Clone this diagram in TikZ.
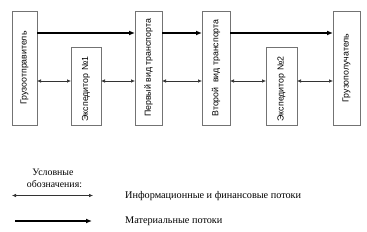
\documentclass[tikz,border=0pt]{standalone}
\usepackage{fontspec}
\usepackage{graphicx}
\setmainfont{Liberation Serif}
\newfontfamily\boxfont{Liberation Sans}
\usetikzlibrary{arrows.meta}
\newlength\legwidthA
\AtBeginDocument{\settowidth{\legwidthA}{\fontsize{9}{10}\selectfont Информационные и финансовые потоки}\pgfmathsetmacro\legscale{176/\legwidthA}\global\let\legscale\legscale}
\begin{document}
\begin{tikzpicture}[x=1pt,y=-1pt,
  box/.style={draw=black!55,line width=0.6pt,fill=white,inner sep=0pt},
  boxtext/.style={rotate=90,font=\boxfont\fontsize{8.8}{10}\selectfont},
  matflow/.style={line width=1.6pt,-{Latex[length=6pt,width=5pt]}},
  infoflow/.style={line width=0.6pt,draw=black!80,{Latex[length=4pt,width=3.5pt]}-{Latex[length=4pt,width=3.5pt]}},
  legtext/.style={anchor=west,inner sep=0pt}]
\useasboundingbox (0,0) rectangle (367,232);
% boxes
\draw[box] (12,11) rectangle (37,125);
\node[boxtext] (b1) at (24.5,68) {Грузоотправитель};
\draw[box] (71,47) rectangle (101,125);
\node[boxtext] (b2) at (86,89) {Экспедитор №1};
\draw[box] (135,11) rectangle (162,125);
\node[boxtext] (b3) at (148.5,68) {Первый вид транспорта};
\draw[box] (202,11) rectangle (230,125);
\node[boxtext] (b4) at (216,68) {Второй\hspace{2pt} вид транспорта};
\draw[box] (266,47) rectangle (297,125);
\node[boxtext] (b5) at (281.5,89) {Экспедитор №2};
\draw[box] (333,11) rectangle (360,125);
\node[boxtext] (b6) at (346.5,68) {Грузополучатель};
% anchor coordinates
\coordinate (b1r) at (37,0); \coordinate (b2l) at (71,0); \coordinate (b2r) at (101,0);
\coordinate (b3l) at (135,0); \coordinate (b3r) at (162,0); \coordinate (b4l) at (202,0);
\coordinate (b4r) at (230,0); \coordinate (b5l) at (266,0); \coordinate (b5r) at (297,0);
\coordinate (b6l) at (333,0);
% material flows
\draw[matflow] (b1r |- 0,33) -- (b3l |- 0,33);
\draw[matflow] (b3r |- 0,33) -- (b4l |- 0,33);
\draw[matflow] (b4r |- 0,33) -- (b6l |- 0,33);
% info flows
\draw[infoflow] (b1r |- 0,81) -- (b2l |- 0,81);
\draw[infoflow] (b2r |- 0,81) -- (b3l |- 0,81);
\draw[infoflow] (b3r |- 0,81) -- (b4l |- 0,81);
\draw[infoflow] (b4r |- 0,81) -- (b5l |- 0,81);
\draw[infoflow] (b5r |- 0,81) -- (b6l |- 0,81);
% legend
\node[inner sep=0pt] (leg1) at (53,172) {\resizebox{41pt}{!}{\fontsize{8.5}{9}\selectfont Условные}};
\node[inner sep=0pt] (leg2) at (54.5,184) {\resizebox{55pt}{!}{\fontsize{8.5}{9}\selectfont обозначения:}};
\coordinate (l1a) at (12,195.5); \coordinate (l1b) at (93,195.5);
\draw[infoflow] (l1a) -- (l1b);
\coordinate (l2a) at (15,221); \coordinate (l2b) at (92,221);
\draw[matflow] (l2a) -- (l2b);
\node[legtext] (t1) at (125,196) {\scalebox{\legscale}{\fontsize{9}{10}\selectfont Информационные и финансовые потоки}};
\node[legtext] (t2) at (125,221) {\scalebox{\legscale}{\fontsize{9}{10}\selectfont Материальные потоки}};
\end{tikzpicture}
\end{document}
